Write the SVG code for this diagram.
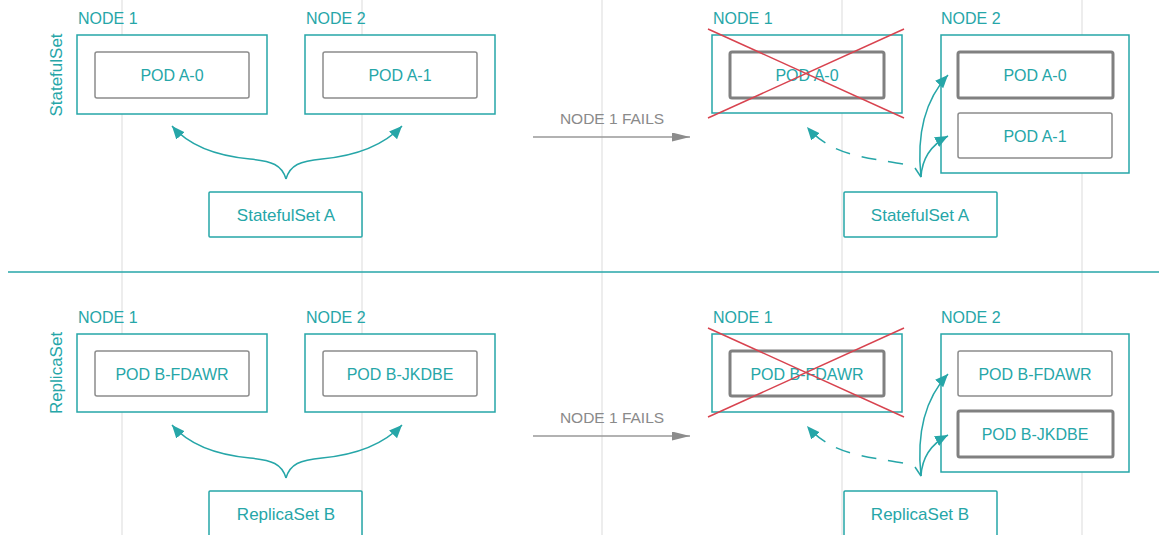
<svg xmlns="http://www.w3.org/2000/svg" width="1159" height="535" viewBox="0 0 1159 535">
<style>
text{font-family:"Liberation Sans",Arial,sans-serif;font-size:16px;fill:#26a6a8}
.c{text-anchor:middle}
.big{font-size:17px}
.grid{stroke:#ededed;stroke-width:2}
.node{fill:#fff;stroke:#26a6a8;stroke-width:1.5}
.pod{fill:#fff;stroke:#8c8c8c;stroke-width:1.5}
.podx{fill:#fff;stroke:#808080;stroke-width:3}
.cross{stroke:#d8434f;stroke-width:1.5}
.ctrl{fill:#fff;stroke:#26a6a8;stroke-width:1.5}
.arr{fill:none;stroke:#26a6a8;stroke-width:1.5;marker-end:url(#ta)}
.dash{fill:none;stroke:#26a6a8;stroke-width:1.5;stroke-dasharray:15 12;marker-end:url(#ta)}
.fail{stroke:#999;stroke-width:1.5;marker-end:url(#ga)}
.gt{fill:#8a8a8a;font-size:15.5px}
</style>
<defs>
<marker id="ta" markerUnits="userSpaceOnUse" markerWidth="14" markerHeight="12" refX="13" refY="5.5" orient="auto">
<path d="M0,0 L13,5.5 L0,11 z" fill="#26a6a8"/>
</marker>
<marker id="ga" markerUnits="userSpaceOnUse" markerWidth="19" markerHeight="10" refX="18" refY="4.5" orient="auto">
<path d="M0,0 L18,4.5 L0,9 z" fill="#8c8c8c"/>
</marker>
</defs>
<rect width="1159" height="535" fill="#fff"/>
<g id="grid">
<line class="grid" x1="122" y1="0" x2="122" y2="535"/>
<line class="grid" x1="362" y1="0" x2="362" y2="535"/>
<line class="grid" x1="602" y1="0" x2="602" y2="535"/>
<line class="grid" x1="842" y1="0" x2="842" y2="535"/>
<line class="grid" x1="1082" y1="0" x2="1082" y2="535"/>
</g>
<line id="divider" x1="8" y1="272" x2="1159" y2="272" stroke="#26a6a8" stroke-width="1.5"/>

<text x="62" y="75" class="c big" transform="rotate(-90 62 75)">StatefulSet</text>
<text x="62" y="373" class="c big" transform="rotate(-90 62 373)">ReplicaSet</text>

<!-- Top row: StatefulSet -->
<g id="ss-before-node1">
<text x="78" y="24">NODE 1</text>
<rect class="node" x="77" y="35" width="190" height="79"/>
<rect class="pod" x="95" y="52" width="154" height="46" rx="2"/>
<text x="172" y="81" class="c">POD A-0</text>
</g>
<g id="ss-before-node2">
<text x="306" y="24">NODE 2</text>
<rect class="node" x="305" y="35" width="190" height="79"/>
<rect class="pod" x="323" y="52" width="154" height="46" rx="2"/>
<text x="400" y="81" class="c">POD A-1</text>
</g>
<g id="ss-before-ctrl">
<rect class="ctrl" x="209" y="192" width="153" height="45" rx="1"/>
<text x="286" y="221" class="c big">StatefulSet A</text>
</g>
<g id="ss-fail-label">
<text x="612" y="124" class="c gt">NODE 1 FAILS</text>
</g>
<g id="ss-after-node1">
<text x="713" y="24">NODE 1</text>
<rect class="node" x="712" y="35" width="190" height="78"/>
<rect class="podx" x="730" y="52" width="154" height="46" rx="2"/>
<text x="807" y="81" class="c">POD A-0</text>
<line class="cross" x1="708" y1="29" x2="904" y2="118"/>
<line class="cross" x1="904" y1="29" x2="708" y2="118"/>
</g>
<g id="ss-after-node2">
<text x="941" y="24">NODE 2</text>
<rect class="node" x="941" y="35" width="188" height="138"/>
<rect class="podx" x="958" y="52" width="155" height="46" rx="2"/>
<text x="1035" y="81" class="c">POD A-0</text>
<rect class="pod" x="958" y="113" width="154" height="45" rx="2"/>
<text x="1035" y="142" class="c">POD A-1</text>
</g>
<g id="ss-after-ctrl">
<rect class="ctrl" x="844" y="192" width="153" height="45" rx="1"/>
<text x="920" y="221" class="c big">StatefulSet A</text>
</g>

<!-- Bottom row: ReplicaSet -->
<g id="rs-before-node1">
<text x="78" y="323">NODE 1</text>
<rect class="node" x="77" y="334" width="190" height="78"/>
<rect class="pod" x="95" y="351" width="154" height="45" rx="2"/>
<text x="172" y="380" class="c">POD B-FDAWR</text>
</g>
<g id="rs-before-node2">
<text x="306" y="323">NODE 2</text>
<rect class="node" x="305" y="334" width="190" height="78"/>
<rect class="pod" x="323" y="351" width="154" height="45" rx="2"/>
<text x="400" y="380" class="c">POD B-JKDBE</text>
</g>
<g id="rs-before-ctrl">
<rect class="ctrl" x="209" y="491" width="153" height="46" rx="1"/>
<text x="286" y="520" class="c big">ReplicaSet B</text>
</g>
<g id="rs-fail-label">
<text x="612" y="423" class="c gt">NODE 1 FAILS</text>
</g>
<g id="rs-after-node1">
<text x="713" y="323">NODE 1</text>
<rect class="node" x="712" y="334" width="190" height="78"/>
<rect class="podx" x="730" y="351" width="154" height="45" rx="2"/>
<text x="807" y="380" class="c">POD B-FDAWR</text>
<line class="cross" x1="708" y1="328" x2="904" y2="417"/>
<line class="cross" x1="904" y1="328" x2="708" y2="417"/>
</g>
<g id="rs-after-node2">
<text x="941" y="323">NODE 2</text>
<rect class="node" x="941" y="334" width="188" height="138"/>
<rect class="pod" x="958" y="351" width="154" height="45" rx="2"/>
<text x="1035" y="380" class="c">POD B-FDAWR</text>
<rect class="podx" x="958" y="411" width="155" height="46" rx="2"/>
<text x="1035" y="440" class="c">POD B-JKDBE</text>
</g>
<g id="rs-after-ctrl">
<rect class="ctrl" x="844" y="491" width="153" height="46" rx="1"/>
<text x="920" y="520" class="c big">ReplicaSet B</text>
</g>

<g id="connectors">
<g id="connectors-top">
<path class="arr" d="M286,179 C282,165 272,161 250,159 C218,156 190,147 172,126"/>
<path class="arr" d="M286,179 C290,165 300,161 322,159 C354,156 382,147 402,126"/>
<line class="fail" x1="533" y1="137" x2="690" y2="137"/>
<path class="dash" d="M903,164 C865,157 832,156 807,127"/>
<path class="arr" d="M915,168 L921,177 C917,140 922,103 948,75"/>
<path class="arr" d="M921,177 C922,158 931,145 948,136"/>
</g>
<g id="connectors-bottom" transform="translate(0,299)">
<path class="arr" d="M286,179 C282,165 272,161 250,159 C218,156 190,147 172,126"/>
<path class="arr" d="M286,179 C290,165 300,161 322,159 C354,156 382,147 402,126"/>
<line class="fail" x1="533" y1="137" x2="690" y2="137"/>
<path class="dash" d="M903,164 C865,157 832,156 807,127"/>
<path class="arr" d="M915,168 L921,177 C917,140 922,103 948,75"/>
<path class="arr" d="M921,177 C922,158 931,145 948,136"/>
</g>
</g>
</svg>
